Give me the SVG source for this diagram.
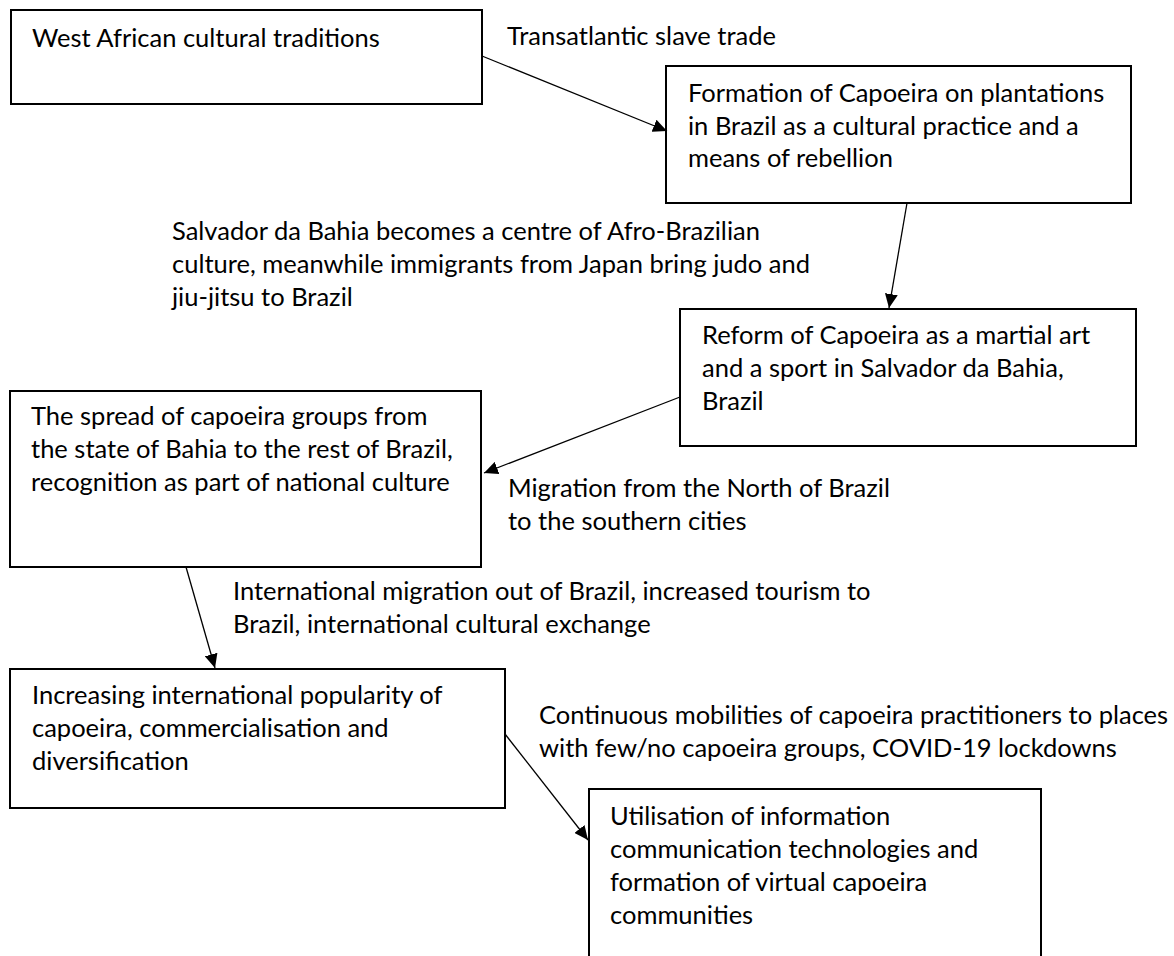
<svg xmlns="http://www.w3.org/2000/svg" width="1174" height="956" viewBox="0 0 1174 956">
<defs>
<marker id="ah" viewBox="0 0 10 10" refX="10" refY="5" markerWidth="14" markerHeight="13" markerUnits="userSpaceOnUse" orient="auto" preserveAspectRatio="none">
<path d="M0,0 L10,5 L0,10 z" fill="#000"/>
</marker>
</defs>
<style>
.box{fill:#fff;stroke:#000;stroke-width:2}
.t{font-family:Lato,"Open Sans",sans-serif;font-size:25.5px;fill:#000}
.c{stroke:#000;stroke-width:1.3;fill:none;marker-end:url(#ah)}
</style>
<rect width="1174" height="956" fill="#fff"/>
<g id="n1"><rect class="box" x="11" y="10" width="471" height="94"/><text class="t" x="32" y="47">West African cultural traditions</text></g>
<g id="n2"><rect class="box" x="666" y="66" width="465" height="137"/><text class="t" x="688" y="102">Formation of Capoeira on plantations</text><text class="t" x="688" y="135">in Brazil as a cultural practice and a</text><text class="t" x="688" y="167">means of rebellion</text></g>
<g id="n3"><rect class="box" x="680" y="309" width="456" height="137"/><text class="t" x="702" y="344">Reform of Capoeira as a martial art</text><text class="t" x="702" y="377">and a sport in Salvador da Bahia,</text><text class="t" x="702" y="410">Brazil</text></g>
<g id="n4"><rect class="box" x="10" y="391" width="471" height="176"/><text class="t" x="31" y="425">The spread of capoeira groups from</text><text class="t" x="31" y="458">the state of Bahia to the rest of Brazil,</text><text class="t" x="31" y="491">recognition as part of national culture</text></g>
<g id="n5"><rect class="box" x="10" y="669" width="495" height="139"/><text class="t" x="32" y="704">Increasing international popularity of</text><text class="t" x="32" y="737">capoeira, commercialisation and</text><text class="t" x="32" y="770">diversification</text></g>
<g id="n6"><rect class="box" x="589" y="789" width="452" height="200"/><text class="t" x="610" y="825">Utilisation of information</text><text class="t" x="610" y="858">communication technologies and</text><text class="t" x="610" y="891">formation of virtual capoeira</text><text class="t" x="610" y="924">communities</text></g>
<g id="labels">
<text class="t" x="507" y="45">Transatlantic slave trade</text>
<text class="t" x="172" y="240">Salvador da Bahia becomes a centre of Afro-Brazilian</text>
<text class="t" x="172" y="273">culture, meanwhile immigrants from Japan bring judo and</text>
<text class="t" x="172" y="306">jiu-jitsu to Brazil</text>
<text class="t" x="508" y="497">Migration from the North of Brazil</text>
<text class="t" x="508" y="530">to the southern cities</text>
<text class="t" x="233" y="600">International migration out of Brazil, increased tourism to</text>
<text class="t" x="233" y="633">Brazil, international cultural exchange</text>
<text class="t" x="539" y="724">Continuous mobilities of capoeira practitioners to places</text>
<text class="t" x="539" y="757">with few/no capoeira groups, COVID-19 lockdowns</text>
</g>
<g id="edges">
<line class="c" x1="482" y1="56" x2="667" y2="131"/>
<line class="c" x1="907" y1="203" x2="889" y2="308"/>
<line class="c" x1="680" y1="397" x2="484" y2="473"/>
<line class="c" x1="186" y1="567" x2="215" y2="668"/>
<line class="c" x1="505" y1="734" x2="588" y2="840"/>
</g>
</svg>
